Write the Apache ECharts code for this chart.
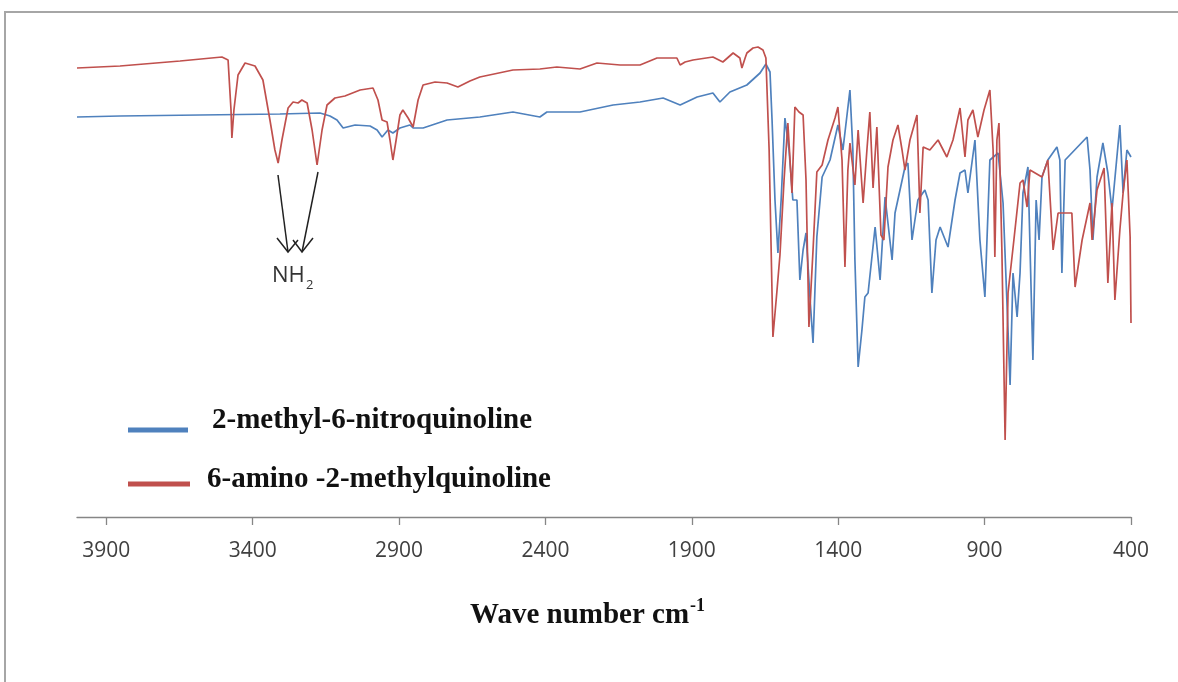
<!DOCTYPE html>
<html>
<head>
<meta charset="utf-8">
<script src="https://cdn.jsdelivr.net/npm/echarts@6/dist/echarts.min.js"></script>
<style>
  html, body { margin: 0; padding: 0; background: #ffffff; }
  #chart { width: 1178px; height: 682px; }
</style>
</head>
<body>
<div id="chart"></div>
<script>
// FT-IR spectra: [wave number (cm-1), transmittance (%)]
const nitroSpectrum = [
  [4000,80.0],[3853,80.2],[3580,80.4],[3307,80.6],[3170,80.8],[3136,80.2],[3112,79.4],[3091,77.8],
  [3050,78.4],[2999,78.2],[2975,77.4],[2958,76.0],[2938,77.4],[2921,76.8],[2897,77.8],[2863,78.4],
  [2852,77.8],[2818,77.8],[2736,79.4],[2624,80.0],[2511,81.0],[2419,80.0],[2395,81.0],[2282,81.0],
  [2169,82.4],[2077,83.0],[1998,83.8],[1940,82.4],[1882,84.0],[1828,84.8],[1804,83.0],[1770,85.0],
  [1712,86.4],[1667,88.8],[1647,90.6],[1633,89.0],[1626,79.4],[1616,63.4],[1606,52.8],[1595,63.4],
  [1582,79.8],[1568,73.4],[1555,63.4],[1541,63.4],[1531,47.4],[1520,53.4],[1510,56.8],[1496,43.4],
  [1486,34.8],[1473,56.0],[1455,68.0],[1428,71.4],[1401,78.4],[1384,73.4],[1360,85.4],[1350,73.4],
  [1343,51.4],[1332,30.0],[1319,37.4],[1309,44.0],[1298,44.8],[1274,58.0],[1257,47.4],[1240,64.0],
  [1216,51.4],[1206,60.8],[1189,65.4],[1172,70.0],[1162,70.8],[1148,55.4],[1128,63.4],[1104,65.4],
  [1093,63.4],[1080,44.8],[1066,55.4],[1052,58.0],[1025,54.0],[1001,63.4],[984,68.8],[967,69.4],
  [957,64.8],[933,75.4],[916,55.4],[899,44.0],[882,71.4],[854,72.8],[837,62.8],[824,43.4],
  [813,26.4],[803,48.8],[789,40.0],[779,48.8],[769,64.8],[752,70.0],[735,31.4],[724,63.4],
  [714,55.4],[704,68.0],[684,71.4],[653,74.0],[643,71.4],[636,48.8],[625,71.4],[550,76.0],
  [540,69.4],[530,55.4],[516,68.0],[496,74.8],[479,68.8],[465,61.4],[438,78.4],[427,64.8],
  [414,73.4],[400,72.0]
];

const aminoSpectrum = [
  [4000,89.8],[3853,90.2],[3648,91.2],[3505,92.0],[3484,91.4],[3474,81.4],[3471,75.8],[3464,81.4],
  [3450,88.4],[3426,90.8],[3392,90.2],[3365,87.4],[3341,79.4],[3324,73.4],[3313,70.8],[3300,75.4],
  [3279,81.8],[3262,83.0],[3245,82.8],[3232,83.4],[3214,82.8],[3197,77.4],[3180,70.4],[3163,77.4],
  [3146,82.4],[3119,83.8],[3085,84.2],[3033,85.4],[2989,85.8],[2972,83.4],[2958,79.4],[2941,79.0],
  [2931,75.4],[2921,71.4],[2910,75.4],[2897,80.4],[2887,81.4],[2869,79.8],[2852,78.0],[2835,83.4],
  [2818,86.4],[2777,87.0],[2736,86.8],[2699,86.0],[2658,87.2],[2624,88.0],[2511,89.4],[2419,89.6],
  [2361,90.0],[2282,89.6],[2224,90.8],[2145,90.4],[2077,90.4],[2019,91.8],[1951,91.8],[1940,90.4],
  [1923,91.0],[1896,91.4],[1828,92.0],[1794,91.0],[1759,92.8],[1736,91.8],[1729,89.8],[1718,91.8],
  [1712,92.8],[1691,93.8],[1674,94.0],[1657,93.4],[1647,91.8],[1636,73.4],[1623,36.0],[1609,45.4],
  [1599,52.4],[1585,67.4],[1572,78.8],[1558,64.8],[1548,82.0],[1534,81.0],[1520,80.4],[1510,67.4],
  [1500,38.0],[1486,53.4],[1473,69.0],[1455,70.4],[1435,75.4],[1411,79.8],[1401,82.0],[1387,71.4],
  [1377,50.0],[1367,69.4],[1360,74.8],[1343,66.4],[1332,77.4],[1315,62.8],[1302,73.4],[1292,81.0],
  [1281,65.8],[1268,78.0],[1254,56.4],[1244,55.4],[1230,70.0],[1213,75.4],[1196,78.4],[1182,73.4],
  [1172,69.4],[1155,75.4],[1131,80.4],[1121,60.8],[1110,74.0],[1087,73.4],[1059,75.4],[1029,72.0],
  [1008,75.4],[984,81.8],[967,72.0],[957,79.4],[940,81.4],[923,76.0],[902,81.4],[882,85.4],
  [871,73.4],[865,52.0],[858,75.4],[851,78.8],[841,53.4],[830,15.4],[820,44.8],[800,55.4],
  [779,66.8],[769,67.4],[755,62.0],[745,69.4],[704,68.0],[684,71.4],[666,53.4],[649,60.8],
  [602,60.8],[591,46.0],[567,55.4],[540,62.8],[533,55.4],[516,65.4],[492,69.8],[479,46.8],
  [465,62.8],[455,43.4],[438,57.4],[427,64.8],[414,71.4],[403,56.0],[400,38.8]
];

const seriesNames = ['2-methyl-6-nitroquinoline', '6-amino -2-methylquinoline'];
const seriesColors = ['#4f81bd', '#c0504d'];
const tickValues = [3900, 3400, 2900, 2400, 1900, 1400, 900, 400];
const axisTitle = 'Wave number cm';
const axisTitleSup = '-1';
const peakLabel = 'NH';
const peakLabelSub = '2';

const chart = echarts.init(document.getElementById('chart'), null, { renderer: 'canvas' });

const serifBold = '"Liberation Serif", "Times New Roman", serif';
const sans = '"Open Sans", sans-serif';

chart.setOption({
  animation: false,
  backgroundColor: '#ffffff',
  grid: { left: 77, right: 47, top: 17, bottom: 165 },
  xAxis: {
    type: 'value',
    min: 400,
    max: 4000,
    inverse: true,
    axisLine: { show: true, lineStyle: { color: '#868686', width: 1.3 } },
    axisTick: { show: true, customValues: tickValues, length: 8, lineStyle: { color: '#868686', width: 1.3 } },
    axisLabel: {
      show: true,
      customValues: tickValues,
      color: '#404040',
      fontFamily: sans,
      fontSize: 21,
      margin: 24,
      formatter: v => String(v)
    },
    splitLine: { show: false }
  },
  yAxis: {
    type: 'value',
    min: 0,
    max: 100,
    show: false,
    splitLine: { show: false }
  },
  series: [
    {
      name: seriesNames[0],
      type: 'line',
      data: nitroSpectrum,
      showSymbol: false,
      lineStyle: { color: seriesColors[0], width: 1.7 },
      z: 2
    },
    {
      name: seriesNames[1],
      type: 'line',
      data: aminoSpectrum,
      showSymbol: false,
      lineStyle: { color: seriesColors[1], width: 1.7 },
      z: 3
    }
  ],
  graphic: [
    // outer frame
    {
      type: 'rect',
      shape: { x: 5, y: 12, width: 1400, height: 900 },
      style: { fill: 'none', stroke: '#a6a6a6', lineWidth: 2 },
      silent: true
    },
    // NH2 arrows
    { type: 'polyline', shape: { points: [[278, 175], [288, 252]] }, style: { stroke: '#222', lineWidth: 1.5, fill: 'none' } },
    { type: 'polyline', shape: { points: [[277, 238], [288, 252], [298, 240]] }, style: { stroke: '#222', lineWidth: 1.5, fill: 'none' } },
    { type: 'polyline', shape: { points: [[318, 172], [302, 252]] }, style: { stroke: '#222', lineWidth: 1.5, fill: 'none' } },
    { type: 'polyline', shape: { points: [[293, 240], [302, 252], [313, 238]] }, style: { stroke: '#222', lineWidth: 1.5, fill: 'none' } },
    {
      type: 'text', x: 272, y: 276,
      style: { text: peakLabel, fontFamily: sans, fontSize: 22, fill: '#333333', verticalAlign: 'middle' }
    },
    {
      type: 'text', x: 306, y: 285,
      style: { text: peakLabelSub, fontFamily: sans, fontSize: 13, fill: '#333333', verticalAlign: 'middle' }
    },
    // legend
    { type: 'line', shape: { x1: 128, y1: 430, x2: 188, y2: 430 }, style: { stroke: seriesColors[0], lineWidth: 5 } },
    { type: 'line', shape: { x1: 128, y1: 484, x2: 190, y2: 484 }, style: { stroke: seriesColors[1], lineWidth: 5 } },
    {
      type: 'text', x: 212, y: 421,
      style: { text: seriesNames[0], fontFamily: serifBold, fontWeight: 'bold', fontSize: 29, fill: '#111111', verticalAlign: 'middle' }
    },
    {
      type: 'text', x: 207, y: 480,
      style: { text: seriesNames[1], fontFamily: serifBold, fontWeight: 'bold', fontSize: 29, fill: '#111111', verticalAlign: 'middle' }
    },
    // axis title with superscript
    {
      type: 'text', x: 470, y: 616,
      style: { text: axisTitle, fontFamily: serifBold, fontWeight: 'bold', fontSize: 29, fill: '#111111', verticalAlign: 'middle' }
    },
    {
      type: 'text', x: 690, y: 606,
      style: { text: axisTitleSup, fontFamily: serifBold, fontWeight: 'bold', fontSize: 18, fill: '#111111', verticalAlign: 'middle' }
    }
  ]
});
</script>
</body>
</html>
